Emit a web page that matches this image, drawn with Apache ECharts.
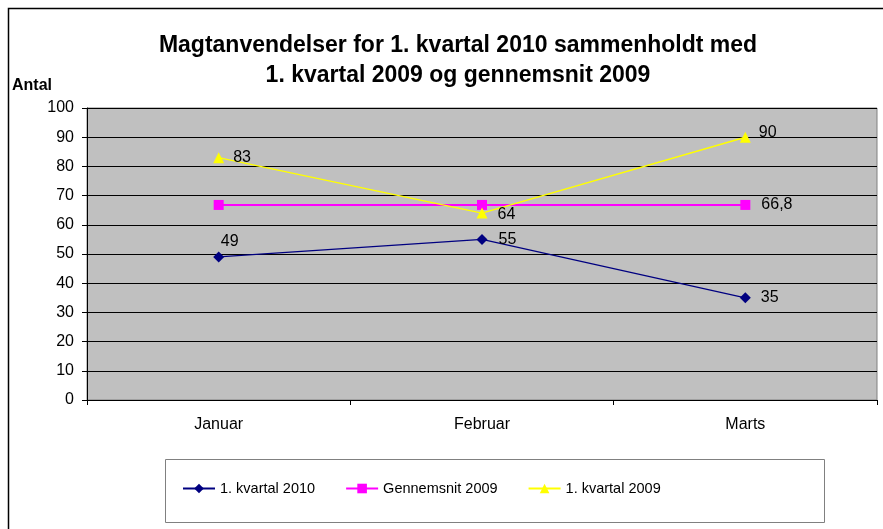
<!DOCTYPE html>
<html><head><meta charset="utf-8">
<script src="https://cdn.jsdelivr.net/npm/echarts@6/dist/echarts.min.js"></script>
<style>html,body{margin:0;padding:0;background:#fff}#c{width:883px;height:529px}</style>
</head><body><div id="c"></div>
<script>
const categories = ['Januar', 'Februar', 'Marts'];
const kvartal2010 = [49, 55, 35];
const gennemsnit2009 = [66.8, 66.8, 66.8];
const kvartal2009 = [83, 64, 90];
const yTicks = [0, 10, 20, 30, 40, 50, 60, 70, 80, 90, 100];

const F = 'Liberation Sans, Arial, sans-serif';
const lbl = (show, pos, off) => ({show, position: pos, offset: off || [0, 0], color: '#000', fontSize: 16, fontFamily: F});

const chart = echarts.init(document.getElementById('c'));
chart.setOption({
  animation: false,
  backgroundColor: '#fff',
  title: {
    text: 'Magtanvendelser for 1. kvartal 2010 sammenholdt med\n1. kvartal 2009 og gennemsnit 2009',
    left: 453, top: 26, textAlign: 'center',
    textStyle: {fontFamily: F, fontWeight: 'bold', fontSize: 23, lineHeight: 30, color: '#000'}
  },
  graphic: [
    {type: 'rect', shape: {x: 8.5, y: 8.5, width: 900, height: 600}, style: {fill: 'none', stroke: '#000', lineWidth: 1.5}, z: 0},
    {type: 'rect', shape: {x: 165.5, y: 459.5, width: 659, height: 63}, style: {fill: '#fff', stroke: '#808080', lineWidth: 1}, z: 1},
    {type: 'text', left: 12, top: 78, style: {text: 'Antal', font: 'bold 16px ' + F, fill: '#000'}}
  ],
  legend: {
    left: 182, top: 481, padding: 0, itemWidth: 32, itemHeight: 12, itemGap: 30, z: 5,
    textStyle: {fontFamily: F, fontSize: 14.5, color: '#000'},
    data: ['1. kvartal 2010', 'Gennemsnit 2009', '1. kvartal 2009']
  },
  grid: {left: 87, top: 108, right: 6, bottom: 129, show: true, backgroundColor: '#C0C0C0', borderColor: '#808080', borderWidth: 1},
  xAxis: {
    type: 'category', data: categories, boundaryGap: true,
    axisLine: {lineStyle: {color: '#000', width: 1}},
    axisTick: {show: true, length: 5, lineStyle: {color: '#000'}},
    axisLabel: {color: '#000', fontSize: 16, fontFamily: F, margin: 17}
  },
  yAxis: {
    type: 'value', min: 0, max: 100, interval: 10,
    axisLine: {show: true, lineStyle: {color: '#000'}},
    axisTick: {show: true, length: 5, lineStyle: {color: '#000'}},
    axisLabel: {color: '#000', fontSize: 16, fontFamily: F, margin: 13},
    splitLine: {lineStyle: {color: '#000', width: 1}}
  },
  series: [
    {
      name: '1. kvartal 2010', type: 'line',
      data: kvartal2010.map((v, i) => ({value: v, label: [lbl(true, 'top', [11, 3]), lbl(true, 'right', [6, 0]), lbl(true, 'right', [5, 0])][i]})),
      symbol: 'diamond', symbolSize: 11, color: '#000080', lineStyle: {width: 1.2, color: '#000080'}, itemStyle: {color: '#000080'}, z: 4
    },
    {
      name: 'Gennemsnit 2009', type: 'line',
      data: gennemsnit2009.map((v, i) => ({value: v, label: lbl(i === 2, 'right', [6, 0])})),
      symbol: 'rect', symbolSize: 10, color: '#FF00FF', lineStyle: {width: 2, color: '#FF00FF'}, itemStyle: {color: '#FF00FF'}, z: 3,
      label: {formatter: p => String(p.value).replace('.', ',')}
    },
    {
      name: '1. kvartal 2009', type: 'line',
      data: kvartal2009.map((v, i) => ({value: v, label: [lbl(true, 'right', [4, 0]), lbl(true, 'right', [5, 1]), lbl(true, 'right', [3, -5])][i]})),
      symbol: 'triangle', symbolSize: 11, color: '#FFFF00', lineStyle: {width: 1.5, color: '#FFFF00'}, itemStyle: {color: '#FFFF00'}, z: 5
    }
  ]
});
</script></body></html>
